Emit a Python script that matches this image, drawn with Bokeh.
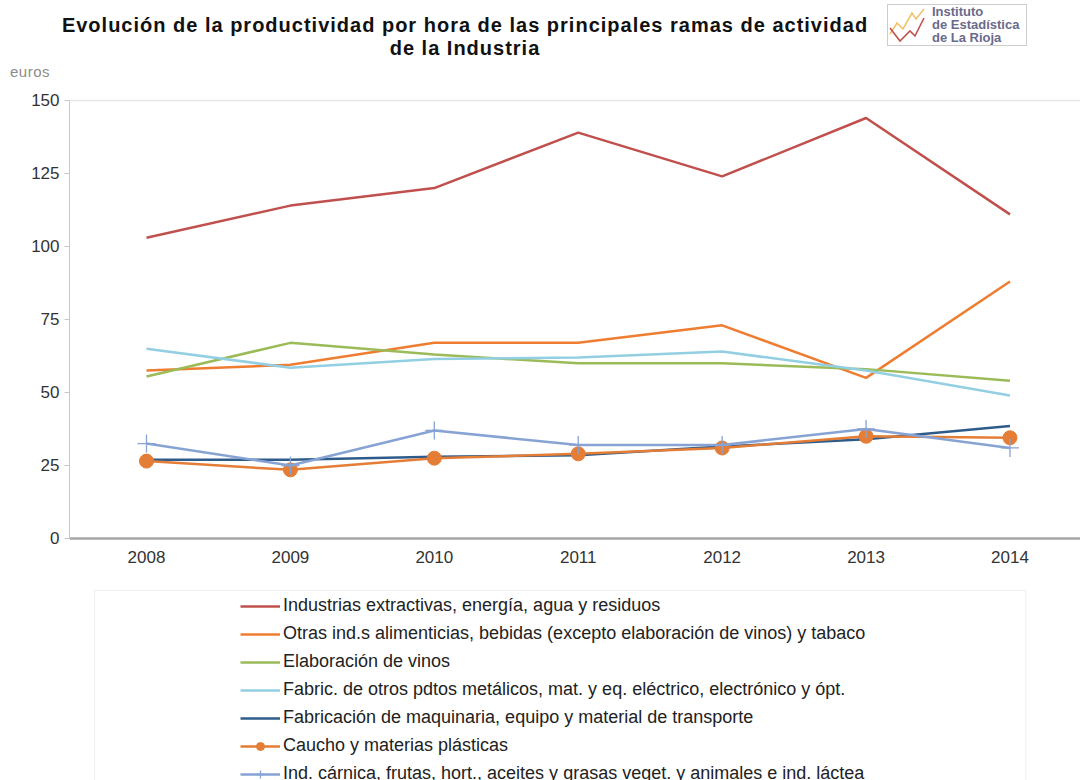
from bokeh.plotting import figure
from bokeh.layouts import column
from bokeh.models import (Legend, LegendItem, BoxAnnotation, FixedTicker, Range1d, Div)
from bokeh.embed import file_html
from bokeh.resources import INLINE

# ---------------- data ----------------
years = [2008, 2009, 2010, 2011, 2012, 2013, 2014]

extractivas = [103, 114, 120, 139, 124, 144, 111]
alimenticias = [57.5, 59.5, 67, 67, 73, 55, 88]
vinos = [55.5, 67, 63, 60, 60, 58, 54]
metalicos = [65, 58.5, 61.5, 62, 64, 57.5, 49]
maquinaria = [27, 27, 28, 28.5, 31.5, 34, 38.5]
caucho = [26.5, 23.5, 27.5, 29, 31, 35, 34.5]
carnica = [32.5, 25, 37, 32, 32, 37.5, 31]

names = [
    "Industrias extractivas, energía, agua y residuos",
    "Otras ind.s alimenticias, bebidas (excepto elaboración de vinos) y tabaco",
    "Elaboración de vinos",
    "Fabric. de otros pdtos metálicos, mat. y eq. eléctrico, electrónico y ópt.",
    "Fabricación de maquinaria, equipo y material de transporte",
    "Caucho y materias plásticas",
    "Ind. cárnica, frutas, hort., aceites y grasas veget. y animales e ind. láctea",
]
y_ticks = [0, 25, 50, 75, 100, 125, 150]

title1 = "Evolución de la productividad por hora de las principales ramas de actividad"
title2 = "de la Industria"
unit_label = "euros"
logo_lines = ["Instituto", "de Estadística", "de La Rioja"]

FONT = "Liberation Sans"
W = 1080
HEAD_H = 84

# ---------------- header (title, unit, logo) ----------------
logo_svg = (
    '<svg width="40" height="42" style="position:absolute;left:0;top:0">'
    '<polyline points="2,29 9,18 15,24 24,8 28,14 36,4" fill="none" '
    'stroke="#f2c26b" stroke-width="1.6"/>'
    '<polyline points="2,23 12,36 22,26 27,31 36,13" fill="none" '
    'stroke="#c0504d" stroke-width="1.6"/></svg>'
)
logo_text = "".join(
    f'<div style="position:absolute;left:44px;top:{-1 + k * 13}px;'
    f'font-size:13px;line-height:15px;font-weight:bold;color:#6a6a8c;'
    f'white-space:nowrap;">{t}</div>'
    for k, t in enumerate(logo_lines)
)
header_html = (
    f'<div style="position:relative;width:{W}px;height:{HEAD_H}px;margin:0;padding:0;'
    f'font-family:\'{FONT}\',Arial,sans-serif;">'
    f'<div style="position:absolute;left:0;top:14px;width:930px;text-align:center;'
    f'font-weight:bold;font-size:20px;line-height:23px;letter-spacing:1px;'
    f'color:#111111;white-space:nowrap;">'
    f'{title1}<br>{title2}</div>'
    f'<div style="position:absolute;left:10px;top:63px;font-size:15px;'
    f'line-height:17px;letter-spacing:0.5px;color:#8c8c8c;">{unit_label}</div>'
    f'<div style="position:absolute;left:887px;top:4px;width:140px;height:42px;'
    f'box-sizing:border-box;border:1px solid #cccccc;background:#ffffff;">'
    f'{logo_svg}{logo_text}</div>'
    f'</div>'
)
head = Div(text=header_html, width=W, height=HEAD_H, margin=(0, 0, 0, 0))

# ---------------- main chart ----------------
MAIN_H = 780 - HEAD_H
p = figure(width=W, height=MAIN_H, output_backend="svg", toolbar_location=None,
           x_axis_location="above",
           x_range=Range1d(2007.465, 2014.49), y_range=Range1d(-82.88, 153.42),
           min_border_left=69, min_border_right=0, min_border_top=6,
           min_border_bottom=0, margin=(0, 0, 0, 0))
p.outline_line_color = None

xa = p.xaxis[0]
xa.fixed_location = 0
xa.ticker = FixedTicker(ticks=years)
xa.axis_line_color = "#a6a6a6"
xa.axis_line_width = 2.5
xa.major_tick_line_color = None
xa.major_tick_out = 0
xa.major_tick_in = 0
xa.minor_tick_line_color = None
xa.major_label_text_font = FONT
xa.major_label_text_font_size = "17px"
xa.major_label_text_color = "#333333"
xa.major_label_standoff = -25

ya = p.yaxis[0]
ya.bounds = (0, 150)
ya.ticker = FixedTicker(ticks=y_ticks)
ya.axis_line_color = "#c8c8c8"
ya.major_tick_line_color = "#c8c8c8"
ya.major_tick_out = 5
ya.major_tick_in = 0
ya.minor_tick_line_color = None
ya.major_label_text_font = FONT
ya.major_label_text_font_size = "17px"
ya.major_label_text_color = "#333333"
ya.major_label_standoff = 5

p.xgrid.grid_line_color = None
p.ygrid.ticker = FixedTicker(ticks=[150])
p.ygrid.grid_line_color = "#e6e6e6"
p.ygrid.grid_line_width = 1.5

colors = ["#c0504d", "#ef7d31", "#9bbb59", "#93cfe2", "#2e5c8a", "#e47d36", "#87a3d4"]
series = [extractivas, alimenticias, vinos, metalicos, maquinaria, caucho, carnica]

items = []
for i, (vals, col, nm) in enumerate(zip(series, colors, names)):
    r = p.line(years, vals, line_color=col, line_width=2.5)
    rs = [r]
    if i == 5:
        rs.append(p.scatter(years, vals, marker="circle", size=14,
                            fill_color=col, line_color=col))
    if i == 6:
        rs.append(p.scatter(years, vals, marker="cross", size=18,
                            line_color=col, line_width=1.3))
    items.append(LegendItem(label=nm, renderers=rs))

# legend frame (decorative box)
p.add_layout(BoxAnnotation(left=2007.639, right=2014.11, top=-17.8, bottom=-100,
                           fill_alpha=0, line_color="#cfcfcf", line_width=1.2))

legend = Legend(items=items, location=(171, -4), orientation="vertical",
                label_text_font=FONT, label_text_font_size="18px",
                label_text_color="#222222", glyph_width=40, glyph_height=20,
                label_height=20, label_standoff=3, spacing=7, padding=0,
                margin=0, border_line_alpha=0, background_fill_alpha=0)
p.add_layout(legend, "center")

open("out.html", "w").write(file_html(column(head, p, spacing=0), INLINE))
